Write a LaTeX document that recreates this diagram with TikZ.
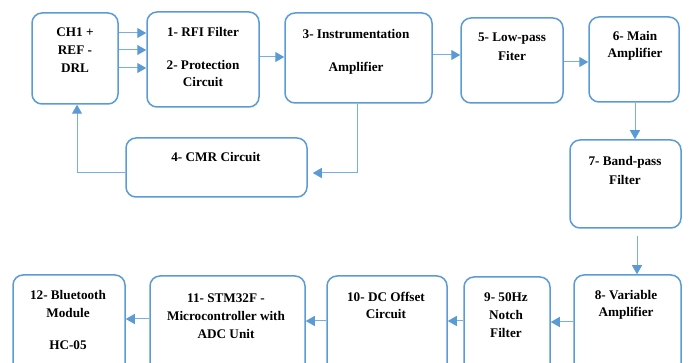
\documentclass[tikz,border=0pt]{standalone}
\usepackage{fontspec}
\setmainfont{Liberation Serif}
\usetikzlibrary{fit,arrows.meta}
\definecolor{bord}{RGB}{91,155,213}
\definecolor{conn}{RGB}{120,175,225}
\tikzset{
  blk/.style={draw=bord, line width=1.5pt, rounded corners=10pt, inner sep=0pt},
  txt/.style={font=\fontsize{13.2}{15}\selectfont\bfseries, inner sep=0pt, anchor=center},
  arr/.style={draw=conn, line width=1pt, -{Triangle[length=9pt,width=10pt,color=bord]}},
}
\begin{document}
\begin{tikzpicture}[x=1pt,y=-1pt]
\useasboundingbox (0,0) rectangle (689,363);
\clip (0,0) rectangle (689,363);
% boxes
\node[blk, fit={(32,13) (118,104)}] (ch) {};
\node[blk, fit={(147,12) (259,107)}] (rfi) {};
\node[blk, fit={(285,13) (432,103)}] (ina) {};
\node[blk, fit={(461,18) (563,103)}] (lpf) {};
\node[blk, fit={(589,17) (679,102)}] (main) {};
\node[blk, fit={(126,138) (307,197)}] (cmr) {};
\node[blk, fit={(570,140) (681,228)}] (bpf) {};
\node[blk, fit={(574,275) (681,378)}] (var) {};
\node[blk, fit={(464,277) (550,378)}] (notch) {};
\node[blk, fit={(327,276) (447,378)}] (dc) {};
\node[blk, fit={(150,276) (305,378)}] (stm) {};
\node[blk, fit={(13,275) (125,378)}] (bt) {};
% texts
\node[txt] (t1a) at (75,32) {CH1 +};
\node[txt] (t1b) at (75,50) {REF -};
\node[txt] (t1c) at (75,68) {DRL};
\node[txt] (t2a) at (203,32) {1- RFI Filter};
\node[txt] (t2b) at (203,65) {2- Protection};
\node[txt] (t2c) at (203,82) {Circuit};
\node[txt] (t3a) at (356,34) {3- Instrumentation};
\node[txt] (t3b) at (356,68) {Amplifier};
\node[txt] (t5a) at (512,39) {5- Low-pass};
\node[txt] (t5b) at (512,56) {Fiter};
\node[txt] (t6a) at (635,36) {6- Main};
\node[txt] (t6b) at (635,54) {Amplifier};
\node[txt] (t4a) at (216,157) {4- CMR Circuit};
\node[txt] (t7a) at (625,162) {7- Band-pass};
\node[txt] (t7b) at (625,180) {Filter};
\node[txt] (t8a) at (626,295) {8- Variable};
\node[txt] (t8b) at (626,313) {Amplifier};
\node[txt] (t9a) at (506,297) {9- 50Hz};
\node[txt] (t9b) at (506,315) {Notch};
\node[txt] (t9c) at (506,333) {Filter};
\node[txt] (t10a) at (386,297) {10- DC Offset};
\node[txt] (t10b) at (386,314) {Circuit};
\node[txt] (t11a) at (226,298) {11- STM32F -};
\node[txt] (t11b) at (226,316) {Microcontroller with};
\node[txt] (t11c) at (226,334) {ADC Unit};
\node[txt] (t12a) at (68,295) {12- Bluetooth};
\node[txt] (t12b) at (68,313) {Module};
\node[txt] (t12c) at (68,345) {HC-05};
% connectors
\draw[arr] (ch.east |- 0,33) -- (rfi.west |- 0,33);
\draw[arr] (ch.east |- 0,50) -- (rfi.west |- 0,50);
\draw[arr] (ch.east |- 0,68) -- (rfi.west |- 0,68);
\draw[arr] (rfi.east |- 0,57) -- (ina.west |- 0,57);
\draw[arr] (ina.east |- 0,55) -- (lpf.west |- 0,55);
\draw[arr] (lpf.east |- 0,62) -- (main.west |- 0,62);
\draw[arr] (main.south -| 635,0) -- (bpf.north -| 635,0);
\draw[arr, shorten <=7pt] (bpf.south -| 637,0) -- (var.north -| 637,0);
\draw[arr] (var.west |- 0,322) -- (notch.east |- 0,322);
\draw[arr] (notch.west |- 0,321) -- (dc.east |- 0,321);
\draw[arr] (dc.west |- 0,321) -- (stm.east |- 0,321);
\draw[arr] (stm.west |- 0,319) -- (bt.east |- 0,319);
\draw[arr, shorten >=5pt] (ina.south -| 357,0) |- (cmr.east |- 0,173);
\draw[arr] (cmr.west |- 0,173) -| (ch.south -| 77,0);
\end{tikzpicture}
\end{document}
